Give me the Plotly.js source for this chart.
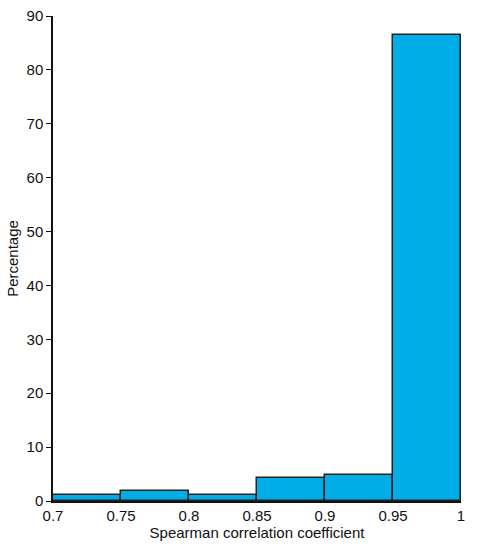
<!DOCTYPE html>
<html><head><meta charset="utf-8">
<script src="https://cdn.plot.ly/plotly-3.0.1.min.js"></script>
<style>html,body{margin:0;padding:0;background:#fff}</style>
</head><body>
<div id="chart" style="width:485px;height:550px"></div>
<script>
const binCenters = [0.725, 0.775, 0.825, 0.875, 0.925, 0.975];
const percentages = [1.2, 1.9, 1.2, 4.3, 4.8, 86.4];
const xTicks = [0.7, 0.75, 0.8, 0.85, 0.9, 0.95, 1];
const xTickText = ['0.7', '0.75', '0.8', '0.85', '0.9', '0.95', '1'];
const yTicks = [0, 10, 20, 30, 40, 50, 60, 70, 80, 90];

Plotly.newPlot('chart', [{
  type: 'bar',
  x: binCenters,
  y: percentages,
  width: 0.05,
  marker: {color: '#00ADE6', line: {color: '#222', width: 1.5}},
  hoverinfo: 'x+y'
}], {
  width: 485, height: 550,
  margin: {l: 53, r: 24, t: 16, b: 49},
  paper_bgcolor: '#fff', plot_bgcolor: '#fff',
  font: {family: 'Liberation Sans, Arial, sans-serif', size: 15, color: '#111'},
  showlegend: false,
  bargap: 0,
  xaxis: {
    range: [0.7, 1], tickvals: xTicks, ticktext: xTickText,
    showgrid: false, zeroline: false, showline: true, linecolor: '#111', linewidth: 1.5,
    ticks: '', tickfont: {size: 15},
    title: {text: 'Spearman correlation coefficient', font: {size: 15}, standoff: 5}
  },
  yaxis: {
    range: [0, 90], tickvals: yTicks,
    showgrid: false, zeroline: false, showline: true, linecolor: '#111', linewidth: 1.5,
    ticks: 'outside', ticklen: 5, tickwidth: 1.2, tickcolor: '#111', tickfont: {size: 15},
    title: {text: 'Percentage', font: {size: 15}, standoff: 4}
  }
}, {displayModeBar: false});
</script>
</body></html>
